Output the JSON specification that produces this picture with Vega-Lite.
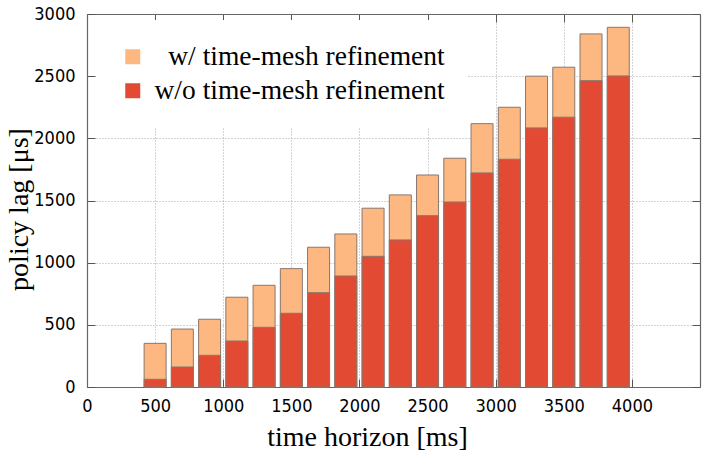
{
  "$schema": "https://vega.github.io/schema/vega-lite/v6.json",
  "width": 613,
  "height": 373,
  "autosize": "none",
  "padding": {"left": 87, "top": 14, "right": 6, "bottom": 65},
  "background": "white",
  "config": {
    "view": {"stroke": null},
    "axis": {
      "labelFont": "DejaVu Sans Condensed, DejaVu Sans",
      "labelFontSize": 18,
      "labelColor": "black",
      "domainColor": "#666666",
      "domainWidth": 1.2,
      "tickColor": "#555555",
      "tickSize": -8,
      "tickWidth": 1,
      "gridColor": "#a8a8a8",
      "gridDash": [1, 2],
      "gridWidth": 1,
      "titleFont": "Liberation Serif",
      "titleFontSize": 28,
      "titleFontWeight": "normal",
      "titleColor": "black"
    }
  },
  "data": {
    "values": [
      {"horizon": 500, "series": "w/ time-mesh refinement", "lag": 351},
      {"horizon": 700, "series": "w/ time-mesh refinement", "lag": 466},
      {"horizon": 900, "series": "w/ time-mesh refinement", "lag": 545},
      {"horizon": 1100, "series": "w/ time-mesh refinement", "lag": 722},
      {"horizon": 1300, "series": "w/ time-mesh refinement", "lag": 818},
      {"horizon": 1500, "series": "w/ time-mesh refinement", "lag": 952},
      {"horizon": 1700, "series": "w/ time-mesh refinement", "lag": 1124},
      {"horizon": 1900, "series": "w/ time-mesh refinement", "lag": 1231},
      {"horizon": 2100, "series": "w/ time-mesh refinement", "lag": 1438},
      {"horizon": 2300, "series": "w/ time-mesh refinement", "lag": 1545},
      {"horizon": 2500, "series": "w/ time-mesh refinement", "lag": 1705},
      {"horizon": 2700, "series": "w/ time-mesh refinement", "lag": 1840},
      {"horizon": 2900, "series": "w/ time-mesh refinement", "lag": 2118},
      {"horizon": 3100, "series": "w/ time-mesh refinement", "lag": 2250},
      {"horizon": 3300, "series": "w/ time-mesh refinement", "lag": 2500},
      {"horizon": 3500, "series": "w/ time-mesh refinement", "lag": 2572},
      {"horizon": 3700, "series": "w/ time-mesh refinement", "lag": 2840},
      {"horizon": 3900, "series": "w/ time-mesh refinement", "lag": 2893},
      {"horizon": 500, "series": "w/o time-mesh refinement", "lag": 62},
      {"horizon": 700, "series": "w/o time-mesh refinement", "lag": 161},
      {"horizon": 900, "series": "w/o time-mesh refinement", "lag": 255},
      {"horizon": 1100, "series": "w/o time-mesh refinement", "lag": 370},
      {"horizon": 1300, "series": "w/o time-mesh refinement", "lag": 480},
      {"horizon": 1500, "series": "w/o time-mesh refinement", "lag": 593},
      {"horizon": 1700, "series": "w/o time-mesh refinement", "lag": 759},
      {"horizon": 1900, "series": "w/o time-mesh refinement", "lag": 893},
      {"horizon": 2100, "series": "w/o time-mesh refinement", "lag": 1051},
      {"horizon": 2300, "series": "w/o time-mesh refinement", "lag": 1183},
      {"horizon": 2500, "series": "w/o time-mesh refinement", "lag": 1378},
      {"horizon": 2700, "series": "w/o time-mesh refinement", "lag": 1488},
      {"horizon": 2900, "series": "w/o time-mesh refinement", "lag": 1722},
      {"horizon": 3100, "series": "w/o time-mesh refinement", "lag": 1832},
      {"horizon": 3300, "series": "w/o time-mesh refinement", "lag": 2084},
      {"horizon": 3500, "series": "w/o time-mesh refinement", "lag": 2170},
      {"horizon": 3700, "series": "w/o time-mesh refinement", "lag": 2464},
      {"horizon": 3900, "series": "w/o time-mesh refinement", "lag": 2502}
    ]
  },
  "layer": [
    {
      "mark": {"type": "bar", "size": 22, "stroke": "#8a766c", "strokeWidth": 1},
      "encoding": {
        "x": {
          "field": "horizon",
          "type": "quantitative",
          "scale": {"domain": [0, 4500], "nice": false, "padding": 0},
          "axis": {
            "orient": "bottom",
            "values": [0, 500, 1000, 1500, 2000, 2500, 3000, 3500, 4000],
            "labelPadding": 18,
            "labelFlush": false,
            "labelOverlap": false,
            "format": "d",
            "title": "time horizon [ms]",
            "titleX": 280,
            "titleY": 58,
            "titleBaseline": "alphabetic",
            "titleAnchor": null
          }
        },
        "y": {
          "field": "lag",
          "type": "quantitative",
          "stack": null,
          "scale": {"domain": [0, 3000], "nice": false, "padding": 0},
          "axis": {
            "orient": "left",
            "values": [0, 500, 1000, 1500, 2000, 2500, 3000],
            "labelPadding": 20,
            "labelFlush": false,
            "labelOverlap": false,
            "format": "d",
            "title": "policy lag [μs]",
            "titleX": -60,
            "titleY": 195,
            "titleAngle": -90,
            "titleBaseline": "alphabetic"
          }
        },
        "color": {
          "field": "series",
          "type": "nominal",
          "scale": {
            "domain": ["w/ time-mesh refinement", "w/o time-mesh refinement"],
            "range": ["#fdb882", "#e24a33"]
          },
          "legend": {
            "orient": "none",
            "legendX": 9,
            "legendY": 6,
            "title": null,
            "fillColor": "white",
            "padding": 23,
            "symbolType": "square",
            "symbolSize": 225,
            "symbolStrokeWidth": 0,
            "labelFont": "Liberation Serif",
            "labelFontSize": 27.5,
            "labelColor": "black",
            "labelOffset": 8,
            "labelLimit": 400,
            "rowPadding": 5,
            "labelExpr": "datum.value == 'w/ time-mesh refinement' ? '\u200b\u2002w/ time-mesh refinement' : datum.label"
          }
        }
      }
    },
    {
      "mark": {"type": "point", "opacity": 0},
      "encoding": {
        "x": {
          "field": "horizon",
          "type": "quantitative",
          "axis": {
            "orient": "top",
            "values": [0, 500, 1000, 1500, 2000, 2500, 3000, 3500, 4000],
            "labels": false,
            "grid": false,
            "title": null
          }
        },
        "y": {
          "field": "lag",
          "type": "quantitative",
          "axis": {
            "orient": "right",
            "values": [0, 500, 1000, 1500, 2000, 2500, 3000],
            "labels": false,
            "grid": false,
            "title": null
          }
        }
      }
    }
  ],
  "resolve": {"axis": {"x": "independent", "y": "independent"}}
}
